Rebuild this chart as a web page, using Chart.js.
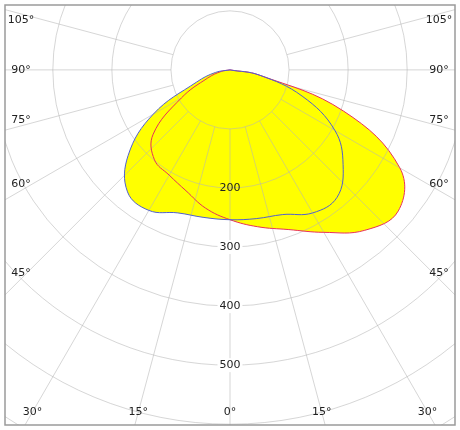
<!DOCTYPE html>
<html><head><meta charset="utf-8">
<script src="https://cdn.jsdelivr.net/npm/chart.js@4"></script>
<style>body{margin:0;background:#fff}</style></head>
<body><canvas id="c" width="460" height="430"></canvas>
<script>
const angles = [-90,-80,-70,-60,-50,-40,-30,-20,-10,0,10,20,30,40,50,60,70,80,90];
const blueI = [0,25,60,150,225,270,275,258,254,254,256,261,280,282,250,205,130,50,0];
const redI  = [0,15,40,95,170,199,206,218,238,254,270,288,318,355,372,332,205,50,0];
const ringValues = [100,200,300,400,500,600,700,800];
const ringLabels = ['200','300','400','500'];
const spokeAngles = [-105,-90,-75,-60,-45,-30,-15,0,15,30,45,60,75,90,105];
const spokeLabels = ['105°','90°','75°','60°','45°','30°','15°','0°','15°','30°','45°','60°','75°','90°','105°'];

const toXY = arr => arr.map((v,i)=>{const a=angles[i]*Math.PI/180;return {x:v*Math.sin(a),y:-v*Math.cos(a)};});

const plugin = {
  id:'polarGrid',
  beforeDatasetsDraw(chart){
    const {ctx,chartArea:ca,scales:{x,y}}=chart;
    const cx=x.getPixelForValue(0), cy=y.getPixelForValue(0);
    const k=x.getPixelForValue(100)-cx;
    ctx.save();
    ctx.beginPath();ctx.rect(ca.left,ca.top,ca.right-ca.left,ca.bottom-ca.top);ctx.clip();
    // fill
    ctx.fillStyle='#ffff00';
    chart.data.datasets.forEach((d,i)=>{
      const meta=chart.getDatasetMeta(i);
      ctx.beginPath();
      if(meta.dataset && meta.dataset.path){meta.dataset.path(ctx);}
      else meta.data.forEach((p,j)=>j?ctx.lineTo(p.x,p.y):ctx.moveTo(p.x,p.y));
      ctx.closePath();ctx.fill();
    });
    // grid
    ctx.strokeStyle='rgba(180,180,180,0.55)';ctx.lineWidth=1;
    ringValues.forEach(r=>{ctx.beginPath();ctx.arc(cx,cy,r/100*k,0,Math.PI*2);ctx.stroke();});
    spokeAngles.forEach(a=>{const t=a*Math.PI/180;const dx=Math.sin(t),dy=Math.cos(t);
      ctx.beginPath();ctx.moveTo(cx+dx*k,cy+dy*k);ctx.lineTo(cx+dx*1000,cy+dy*1000);ctx.stroke();});
    // labels
    ctx.font='11px "DejaVu Sans", sans-serif';ctx.textAlign='center';ctx.textBaseline='middle';
    ringLabels.forEach(l=>{const v=+l;const py=cy+v/100*k;const w=ctx.measureText(l).width;
      if(v>254){ctx.fillStyle='#fff';ctx.fillRect(cx-w/2-2,py-7,w+4,14);}
      ctx.fillStyle='#222';ctx.fillText(l,cx,py);});
    spokeAngles.forEach((a,i)=>{const t=a*Math.PI/180;const dx=Math.sin(t),dy=Math.cos(t);
      let px,py;const by=ca.bottom-13, sx=ca.left+16, ex=ca.right-16;
      const tb=(by-cy)/dy;
      if(dy>0 && Math.abs(cx+dx*tb-cx)<= (ex-cx)){px=cx+dx*tb;py=by;px=Math.max(sx,Math.min(ex,px));}
      else{px=dx<0?sx:ex;const ts=(px-cx)/dx;py=cy+dy*ts-6;py=Math.max(ca.top+15,py);
        if(Math.abs(a)===90)py=cy;}
      ctx.fillStyle='#222';ctx.fillText(spokeLabels[i],px,py);});
    ctx.restore();
  },
  afterDraw(chart){const {ctx,chartArea:ca}=chart;ctx.save();ctx.strokeStyle='#9a9a9a';ctx.lineWidth=1.5;
    ctx.strokeRect(ca.left,ca.top,ca.right-ca.left,ca.bottom-ca.top);ctx.restore();}
};

new Chart(document.getElementById('c'),{
  type:'scatter',
  data:{datasets:[
    {data:toXY(blueI),showLine:true,borderColor:'#5060d0',borderWidth:1,pointRadius:0,tension:0.4,fill:false},
    {data:toXY(redI),showLine:true,borderColor:'#e8305a',borderWidth:1,pointRadius:0,tension:0.4,fill:false}
  ]},
  options:{responsive:false,animation:false,
    layout:{padding:{left:5,right:5,top:5,bottom:5}},
    plugins:{legend:{display:false},tooltip:{enabled:false}},
    scales:{x:{display:false,min:-381,max:381},y:{display:false,min:-602,max:110}}},
  plugins:[plugin]
});
</script></body></html>
